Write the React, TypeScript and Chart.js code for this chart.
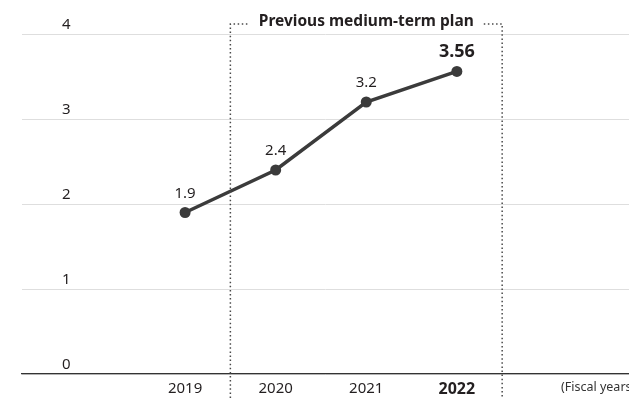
import React, { useEffect, useRef } from 'react';
import { Chart, registerables } from 'chart.js';

Chart.register(...registerables);

const years = [2019, 2020, 2021, 2022];
const values = [1.9, 2.4, 3.2, 3.56];
const valueLabels = ['1.9', '2.4', '3.2', '3.56'];
const yTickValues = [0, 1, 2, 3, 4];
const highlightYear = 2022;
const planTitle = 'Previous medium-term plan';
const planYears = [2020, 2022];
const axisNote = '(Fiscal years)';

const FONT = '"Noto Sans", "Open Sans", sans-serif';
const INK = '#231f20';
const LINE = '#3b3b3b';

const overlayPlugin = {
  id: 'overlay',
  afterDatasetsDraw(chart: any) {
    const { ctx, chartArea, scales } = chart;
    const xs = scales.x;
    const ys = scales.y;
    ctx.save();
    // plan bracket
    const left = xs.getPixelForValue(planYears[0] - 0.5);
    const right = xs.getPixelForValue(planYears[1] + 0.5);
    const topY = 24;
    ctx.font = `bold 15.5px ${FONT}`;
    const tw = ctx.measureText(planTitle).width;
    const cx = (left + right) / 2;
    ctx.strokeStyle = '#4a4a4a';
    ctx.lineWidth = 1.5;
    ctx.setLineDash([1.5, 2.6]);
    ctx.beginPath();
    ctx.moveTo(left, chart.height);
    ctx.lineTo(left, topY);
    ctx.lineTo(cx - tw / 2 - 10, topY);
    ctx.moveTo(cx + tw / 2 + 10, topY);
    ctx.lineTo(right, topY);
    ctx.lineTo(right, chart.height);
    ctx.stroke();
    ctx.setLineDash([]);
    ctx.fillStyle = INK;
    ctx.textAlign = 'center';
    ctx.textBaseline = 'alphabetic';
    ctx.fillText(planTitle, cx, 26);

    // value labels
    const meta = chart.getDatasetMeta(0);
    meta.data.forEach((pt: any, i: number) => {
      const hi = years[i] === highlightYear;
      ctx.font = hi ? `bold 18px ${FONT}` : `15px ${FONT}`;
      ctx.textBaseline = 'middle';
      ctx.fillText(valueLabels[i], pt.x, pt.y - (hi ? 20 : 19));
    });

    // axis note
    ctx.font = `12.5px ${FONT}`;
    ctx.textAlign = 'left';
    ctx.textBaseline = 'middle';
    ctx.fillStyle = '#333';
    ctx.fillText(axisNote, chartArea.right - 68, ys.bottom + 13);
    ctx.restore();
  },
};

export default function App() {
  const ref = useRef<HTMLCanvasElement>(null);
  useEffect(() => {
    if (!ref.current) return;
    const chart = new Chart(ref.current, {
      type: 'line',
      data: {
        datasets: [
          {
            data: years.map((y, i) => ({ x: y, y: values[i] })),
            borderColor: LINE,
            backgroundColor: LINE,
            borderWidth: 3.5,
            pointRadius: 5.5,
            pointBorderWidth: 0,
            pointBackgroundColor: LINE,
            tension: 0,
          },
        ],
      },
      options: {
        animation: false,
        responsive: false,
        maintainAspectRatio: false,
        layout: { autoPadding: false, padding: { left: 22, right: 0, top: 34, bottom: 0 } },
        plugins: { legend: { display: false }, tooltip: { enabled: false } },
        scales: {
          x: {
            type: 'linear',
            min: 2017.2,
            max: 2023.9,
            afterBuildTicks: (s: any) => {
              s.ticks = years.map((v) => ({ value: v }));
            },
            afterFit: (s: any) => {
              s.height = 24;
              s.paddingLeft = 0;
              s.paddingRight = 0;
            },
            grid: { display: false, drawTicks: false },
            border: { display: true, color: '#333', width: 1.2 },
            ticks: {
              padding: 6,
              color: INK,
              callback: (v: any) => String(v),
              font: (c: any) =>
                c.tick && c.tick.value === highlightYear
                  ? { family: FONT, size: 16, weight: 'bold' }
                  : { family: FONT, size: 15 },
            },
          },
          y: {
            min: 0,
            max: 4,
            afterBuildTicks: (s: any) => {
              s.ticks = yTickValues.map((v) => ({ value: v }));
            },
            afterFit: (s: any) => {
              s.width = 0;
              s.paddingTop = 0;
              s.paddingBottom = 0;
            },
            grid: { color: '#dedede', lineWidth: 1, drawTicks: false },
            border: { display: false },
            ticks: {
              mirror: true,
              padding: 40,
              labelOffset: -9,
              color: INK,
              font: { family: FONT, size: 15 },
            },
          },
        },
      },
      plugins: [overlayPlugin],
    } as any);
    return () => chart.destroy();
  }, []);
  return (
    <div style={{ position: 'fixed', left: 0, top: 0, width: 629, height: 398, background: '#fff' }}>
      <canvas ref={ref} width={629} height={398} style={{ width: 629, height: 398 }} />
    </div>
  );
}
